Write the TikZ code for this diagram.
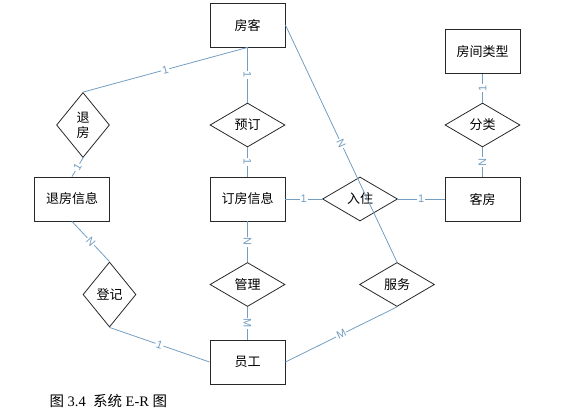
\documentclass[tikz,border=0pt]{standalone}
\usepackage{fontspec}
\setmainfont{Liberation Serif}
\newfontfamily\cjk{Noto Sans CJK SC}
\newfontfamily\cardfont{Liberation Sans}
\usetikzlibrary{shapes.geometric}
\definecolor{linkblue}{RGB}{115,158,194}
\definecolor{boxgray}{RGB}{40,40,40}
\tikzset{
  entity/.style={draw=boxgray,line width=0.9pt,rectangle,minimum width=75pt,minimum height=44pt,font=\cjk\fontsize{13}{15}\selectfont},
  relation/.style={draw=boxgray,line width=0.8pt,diamond,inner sep=0pt,minimum width=75pt,minimum height=44pt,font=\cjk\fontsize{13}{15}\selectfont,align=center},
  tallrel/.style={relation,minimum width=53pt,minimum height=65pt},
  link/.style={draw=linkblue,line width=0.8pt},
  card/.style={sloped,fill=white,inner sep=1pt,text=linkblue,font=\cardfont\fontsize{11}{11}\selectfont}
}
\begin{document}
\begin{tikzpicture}[x=1pt,y=-1pt]
\useasboundingbox (0,0) rectangle (564,413);

%entities
\node[entity] (guest) at (247.5,25) {房客};
\node[entity] (roomtype) at (482.5,51.5) {房间类型};
\node[entity] (checkout-info) at (72,199) {退房信息};
\node[entity] (booking-info) at (247.5,199) {订房信息};
\node[entity] (room) at (482.5,199) {客房};
\node[entity] (staff) at (247.5,362) {员工};

%relations
\node[tallrel] (checkout) at (83,125) {退\\房};
\node[relation] (book) at (247.5,125) {预订};
\node[relation] (classify) at (482.5,125) {分类};
\node[relation] (checkin) at (360,199) {入住};
\node[tallrel] (register) at (109.5,294.5) {登记};
\node[relation] (manage) at (247.5,284.5) {管理};
\node[relation] (serve) at (397,284.5) {服务};

%links
\draw[link] (guest.south) -- node[card] {1} (checkout.north);
\draw[link] (guest.south) -- node[card] {1} (book.north);
\draw[link] (book.south) -- node[card] {1} (booking-info.north);
\draw[link] (guest.east) -- node[card] {N} (serve.north);
\draw[link] (checkout.south) -- node[card] {1} (checkout-info.north);
\draw[link] (booking-info.east) -- node[card] {1} (checkin.west);
\draw[link] (checkin.east) -- node[card] {1} (room.west);
\draw[link] (classify.north) -- node[card] {1} (roomtype.south);
\draw[link] (classify.south) -- node[card] {N} (room.north);
\draw[link] (checkout-info.south) -- node[card] {N} (register.north);
\draw[link] (booking-info.south) -- node[card] {N} (manage.north);
\draw[link] (manage.south) -- node[card] {M} (staff.north);
\draw[link] (register.south) -- node[card] {1} (staff.west);
\draw[link] (staff.east) -- node[card] {M} (serve.south);

%caption
\node[anchor=west,font=\fontsize{14.5}{16}\selectfont] (caption) at (46,401) {{\cjk 图} 3.4\ \ {\cjk 系统} E-R {\cjk 图}};
\end{tikzpicture}
\end{document}
